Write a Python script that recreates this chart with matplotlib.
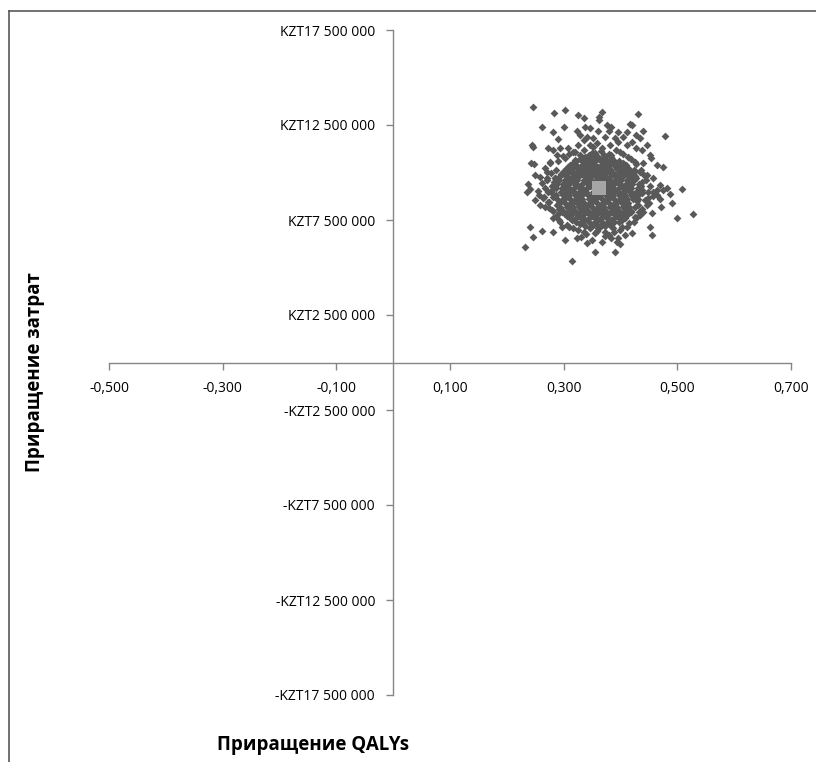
import numpy as np
import matplotlib.pyplot as plt
from matplotlib.lines import Line2D
from matplotlib.ticker import FuncFormatter

plt.rcParams['font.family'] = ['Open Sans', 'DejaVu Sans']

# Incremental QALYs / incremental costs (millions KZT) - scattered simulations
outer_qaly = [0.246, 0.283, 0.303, 0.326, 0.335, 0.367, 0.362, 0.363, 0.430, 0.262,
              0.282, 0.300, 0.323, 0.338, 0.346, 0.361, 0.376, 0.384, 0.380, 0.396,
              0.411, 0.417, 0.421, 0.440, 0.478, 0.290, 0.244, 0.246, 0.243, 0.247,
              0.276, 0.508, 0.528, 0.499, 0.238, 0.241, 0.235, 0.240, 0.261, 0.246,
              0.232, 0.282, 0.302, 0.323, 0.314, 0.341, 0.355, 0.390, 0.367, 0.384,
              0.393, 0.399, 0.455, 0.452, 0.472, 0.490, 0.474, 0.487, 0.455, 0.434,
              0.446]
outer_cost = [13.43, 13.11, 13.29, 13.03, 12.89, 13.17, 12.94, 12.76, 13.08, 12.38,
              12.15, 12.38, 12.19, 12.41, 12.33, 12.19, 12.50, 12.41, 12.19, 12.15,
              12.11, 12.54, 12.50, 12.19, 11.92, 11.76, 11.45, 11.33, 10.48, 10.45,
              10.48, 9.12, 7.82, 7.62, 9.38, 9.12, 8.99, 7.15, 6.92, 6.62,
              6.10, 6.89, 6.45, 6.57, 5.36, 6.27, 5.83, 5.80, 6.36, 6.54,
              6.36, 6.22, 6.71, 7.15, 8.20, 8.38, 9.08, 8.85, 7.85, 7.76,
              8.29]

mid_qaly = [0.329, 0.341, 0.352, 0.335, 0.373, 0.390, 0.405, 0.428, 0.434, 0.420,
            0.446, 0.452, 0.453, 0.273, 0.282, 0.294, 0.308, 0.317, 0.326, 0.346,
            0.358, 0.367, 0.381, 0.396, 0.411, 0.428, 0.437, 0.288, 0.302, 0.320,
            0.329, 0.341, 0.355, 0.370, 0.384, 0.399, 0.414, 0.425, 0.440, 0.464,
            0.475, 0.270, 0.258, 0.250, 0.270, 0.285, 0.300, 0.314, 0.329, 0.346,
            0.361, 0.376, 0.393, 0.408, 0.423, 0.434, 0.446, 0.458, 0.469, 0.481,
            0.256, 0.264, 0.273, 0.267, 0.279, 0.291, 0.282, 0.294, 0.305, 0.297,
            0.317, 0.329, 0.335, 0.346, 0.355, 0.364, 0.373, 0.379, 0.387, 0.399,
            0.411, 0.423, 0.428, 0.440, 0.449, 0.458, 0.464, 0.420, 0.408]
mid_cost = [11.97, 11.89, 11.80, 11.71, 11.89, 11.80, 11.89, 11.97, 11.80, 11.62,
            11.45, 10.92, 10.75, 11.27, 11.19, 11.31, 11.27, 11.10, 11.45, 11.45,
            11.54, 11.27, 11.45, 11.62, 11.45, 11.27, 11.19, 10.92, 10.75, 10.66,
            10.92, 10.83, 11.01, 10.75, 10.92, 11.10, 10.83, 10.57, 10.48, 10.40,
            10.31, 10.04, 9.78, 9.87, 9.61, 9.69, 9.96, 10.22, 10.31, 10.48,
            10.31, 10.48, 10.40, 10.31, 10.13, 10.04, 9.87, 9.69, 9.34, 9.17,
            8.82, 8.64, 8.47, 8.20, 8.03, 7.85, 7.59, 7.41, 7.24, 7.15,
            7.06, 7.33, 6.89, 7.06, 6.80, 7.15, 6.89, 6.71, 7.06, 6.97,
            7.15, 7.41, 7.59, 7.94, 8.64, 8.99, 8.82, 6.80, 6.71]

fringe_qaly = [0.262, 0.268, 0.255, 0.272, 0.265, 0.275, 0.270, 0.278, 0.268, 0.258,
               0.250, 0.274, 0.281, 0.286, 0.292, 0.287, 0.276, 0.290, 0.299, 0.310,
               0.445, 0.452, 0.448, 0.458, 0.443, 0.450, 0.438, 0.442, 0.436, 0.428,
               0.418, 0.405, 0.465, 0.470, 0.432, 0.425, 0.415, 0.402,
               0.320, 0.335, 0.350, 0.365, 0.380, 0.392, 0.352,
               0.310, 0.325, 0.340, 0.358, 0.372, 0.388, 0.395, 0.350, 0.330]
fringe_cost = [9.45, 9.20, 9.05, 8.95, 8.70, 8.45, 9.70, 9.95, 10.25, 8.30,
               8.55, 8.15, 7.95, 7.70, 7.50, 10.15, 10.55, 10.60, 10.85, 11.00,
               9.60, 9.30, 9.00, 8.75, 8.55, 8.40, 8.10, 9.85, 10.15, 10.45,
               10.70, 10.95, 9.10, 8.60, 7.90, 7.65, 7.35, 7.15,
               11.10, 11.20, 11.05, 11.15, 11.00, 11.20, 11.35,
               7.15, 6.95, 6.75, 6.90, 6.65, 6.85, 6.55, 6.45, 6.60]

# dense centre of the cloud, one row per cost level
core_rows = [
    (10.9, [0.344, 0.371]),
    (10.8, [0.338, 0.349, 0.361, 0.372, 0.383]),
    (10.7, [0.328, 0.351, 0.363, 0.385]),
    (10.6, [0.322, 0.333, 0.345, 0.356, 0.366, 0.377, 0.389, 0.398]),
    (10.5, [0.316, 0.339, 0.350, 0.372, 0.383, 0.404]),
    (10.4, [0.311, 0.322, 0.334, 0.344, 0.355, 0.367, 0.378, 0.388, 0.399, 0.409]),
    (10.3, [0.307, 0.330, 0.342, 0.364, 0.376, 0.398]),
    (10.2, [0.304, 0.315, 0.326, 0.338, 0.349, 0.359, 0.371, 0.382, 0.393, 0.404, 0.415]),
    (10.1, [0.301, 0.313, 0.336, 0.347, 0.369, 0.380, 0.403, 0.425]),
    (10.0, [0.298, 0.308, 0.319, 0.331, 0.342, 0.353, 0.364, 0.375, 0.386, 0.397, 0.409, 0.420]),
    (9.9, [0.296, 0.321, 0.332, 0.355, 0.366, 0.388, 0.411, 0.422]),
    (9.8, [0.294, 0.304, 0.316, 0.327, 0.338, 0.350, 0.361, 0.372, 0.383, 0.394, 0.405, 0.416, 0.426]),
    (9.7, [0.285, 0.308, 0.319, 0.341, 0.363, 0.374, 0.396, 0.418, 0.428]),
    (9.6, [0.291, 0.302, 0.313, 0.324, 0.335, 0.346, 0.357, 0.368, 0.379, 0.390, 0.401, 0.412, 0.423]),
    (9.5, [0.283, 0.305, 0.316, 0.339, 0.361, 0.383, 0.394, 0.416, 0.437]),
    (9.4, [0.289, 0.299, 0.310, 0.321, 0.333, 0.344, 0.355, 0.366, 0.377, 0.388, 0.399, 0.410, 0.421, 0.432]),
    (9.3, [0.280, 0.303, 0.325, 0.347, 0.358, 0.380, 0.402, 0.413, 0.436]),
    (9.2, [0.287, 0.297, 0.308, 0.319, 0.330, 0.341, 0.353, 0.364, 0.375, 0.386, 0.397, 0.408, 0.419, 0.430]),
    (9.1, [0.279, 0.302, 0.313, 0.335, 0.357, 0.379, 0.390, 0.413, 0.437]),
    (9.0, [0.296, 0.307, 0.318, 0.329, 0.340, 0.351, 0.362, 0.373, 0.385, 0.396, 0.407, 0.418, 0.429]),
    (8.9, [0.280, 0.303, 0.325, 0.336, 0.358, 0.380, 0.402, 0.425, 0.438]),
    (8.8, [0.287, 0.298, 0.309, 0.320, 0.331, 0.342, 0.353, 0.364, 0.375, 0.386, 0.397, 0.408, 0.419, 0.431]),
    (8.7, [0.282, 0.304, 0.326, 0.348, 0.359, 0.381, 0.403, 0.426]),
    (8.6, [0.289, 0.300, 0.311, 0.322, 0.333, 0.344, 0.356, 0.367, 0.378, 0.389, 0.400, 0.411, 0.422, 0.430]),
    (8.5, [0.296, 0.318, 0.329, 0.352, 0.374, 0.396, 0.407, 0.429]),
    (8.4, [0.291, 0.302, 0.313, 0.324, 0.336, 0.347, 0.358, 0.369, 0.380, 0.391, 0.402, 0.413]),
    (8.3, [0.288, 0.310, 0.332, 0.343, 0.366, 0.388, 0.410, 0.431]),
    (8.2, [0.294, 0.305, 0.316, 0.327, 0.338, 0.349, 0.360, 0.371, 0.382, 0.393, 0.404, 0.415, 0.426]),
    (8.1, [0.292, 0.314, 0.336, 0.358, 0.369, 0.391, 0.413]),
    (8.0, [0.298, 0.309, 0.320, 0.331, 0.342, 0.353, 0.364, 0.375, 0.386, 0.397, 0.408, 0.419]),
    (7.9, [0.297, 0.319, 0.341, 0.363, 0.385, 0.396, 0.418]),
    (7.8, [0.303, 0.314, 0.325, 0.336, 0.347, 0.358, 0.369, 0.380, 0.391, 0.402, 0.413]),
    (7.7, [0.305, 0.327, 0.350, 0.372, 0.394]),
    (7.6, [0.311, 0.322, 0.333, 0.344, 0.355, 0.366, 0.377, 0.388, 0.399, 0.408]),
    (7.5, [0.315, 0.338, 0.361, 0.383, 0.403]),
    (7.4, [0.322, 0.333, 0.344, 0.356, 0.367, 0.378, 0.389, 0.398]),
    (7.3, [0.329, 0.353, 0.377]),
    (7.2, [0.338, 0.349, 0.361, 0.372, 0.383]),
    (7.1, [0.360]),
]

# mean point
mean_qaly = 0.3615
mean_cost = 9.21

x_ticks = [-0.5, -0.3, -0.1, 0.1, 0.3, 0.5, 0.7]
y_ticks = [-17.5e6, -12.5e6, -7.5e6, -2.5e6, 2.5e6, 7.5e6, 12.5e6, 17.5e6]

core_qaly = [q for c, qs in core_rows for q in qs]
core_cost = [c for c, qs in core_rows for q in qs]

all_qaly = np.array(outer_qaly + mid_qaly + fringe_qaly + core_qaly)
all_cost = np.array(outer_cost + mid_cost + fringe_cost + core_cost) * 1e6

fig = plt.figure(figsize=(8.16, 7.62), dpi=100)
ax = fig.add_axes([109 / 816, 1 - 695 / 762, 682 / 816, 665 / 762])

ax.scatter(all_qaly, all_cost, marker='D', s=16, color='#595959', linewidths=0, zorder=3)
ax.scatter([mean_qaly], [mean_cost * 1e6], marker='s', s=95, color='#a6a6a6', linewidths=0, zorder=4)

ax.set_xlim(-0.5, 0.7)
ax.set_ylim(-17.5e6, 17.5e6)
ax.set_xticks(x_ticks)
ax.set_yticks(y_ticks)

ax.spines['left'].set_position(('data', 0))
ax.spines['bottom'].set_position(('data', 0))
ax.spines['top'].set_visible(False)
ax.spines['right'].set_visible(False)
for s in ['left', 'bottom']:
    ax.spines[s].set_color('#868686')
    ax.spines[s].set_linewidth(1.0)


def fmt_x(v, pos):
    return f"{v:.3f}".replace('.', ',')


def fmt_y(v, pos):
    sign = '-' if v < 0 else ''
    return sign + 'KZT' + f"{abs(v):,.0f}".replace(',', ' ')


ax.xaxis.set_major_formatter(FuncFormatter(fmt_x))
ax.yaxis.set_major_formatter(FuncFormatter(fmt_y))
ax.tick_params(axis='both', direction='out', length=5, width=1, color='#868686',
               labelsize=10, labelcolor='black')
ax.tick_params(axis='y', pad=8)
ax.tick_params(axis='x', pad=8)

fig.text(313 / 816, 1 - 745 / 762, 'Приращение QALYs', fontsize=13.5, fontweight='bold',
         ha='center', va='center')
fig.text(35 / 816, 1 - 372 / 762, 'Приращение затрат', fontsize=13.5, fontweight='bold',
         ha='center', va='center', rotation=90)

# chart area frame (only top and left edges visible)
fig.add_artist(Line2D([9 / 816, 9 / 816], [0, 1 - 11 / 762], transform=fig.transFigure,
                      color='#595959', linewidth=1.2))
fig.add_artist(Line2D([9 / 816, 1], [1 - 11 / 762, 1 - 11 / 762], transform=fig.transFigure,
                      color='#595959', linewidth=1.2))

fig.savefig('out.png', dpi=100)
